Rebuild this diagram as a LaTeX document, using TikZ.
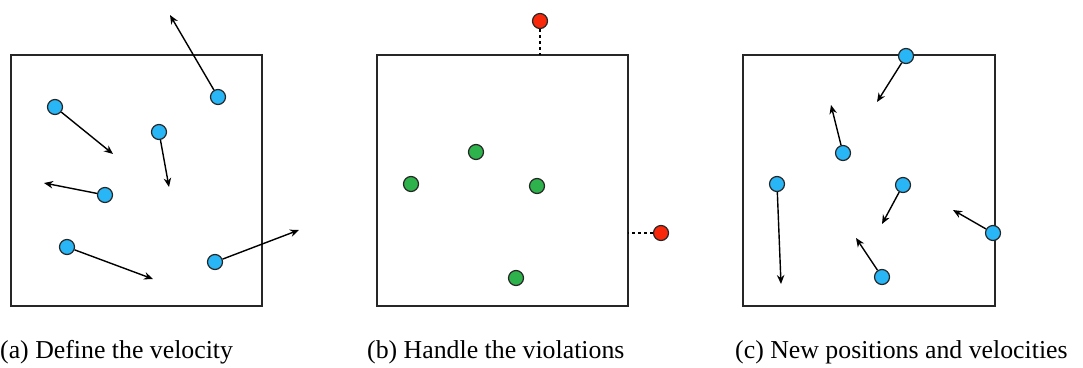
\documentclass[tikz,border=0pt]{standalone}
\usepackage{fontspec}
\setmainfont{Liberation Serif}
\usetikzlibrary{arrows.meta}
\definecolor{pblue}{RGB}{41,182,246}
\definecolor{pgreen}{RGB}{46,178,76}
\definecolor{pred}{RGB}{250,40,10}
\begin{document}
\begin{tikzpicture}[x=1pt,y=-1pt,
  box/.style={draw=black!85,line width=1.2pt},
  part/.style={circle,draw=black!85,line width=1.2pt,minimum size=15pt,inner sep=0pt},
  vec/.style={line width=1.4pt,-{Stealth[length=9pt,width=7.5pt]}},
  viol/.style={line width=1.5pt,dash pattern=on 3pt off 3pt},
  caption/.style={anchor=base west,inner sep=0pt,font=\fontsize{25.8}{30}\selectfont}]
\useasboundingbox (0,0) rectangle (1083,367);
% (a) velocities
\draw[box] (11,55) rectangle (262,306);
\node[part,fill=pblue] (a1) at (218,97) {};
\node[part,fill=pblue] (a2) at (55,107) {};
\node[part,fill=pblue] (a3) at (159,132) {};
\node[part,fill=pblue] (a4) at (105,195) {};
\node[part,fill=pblue] (a5) at (67,247) {};
\node[part,fill=pblue] (a6) at (215,262) {};
\coordinate (va1) at (170,15);
\coordinate (va2) at (113,154);
\coordinate (va3) at (169,187);
\coordinate (va4) at (44,183);
\coordinate (va5) at (153,279);
\coordinate (va6) at (299,230);
\foreach \i in {1,...,6}
  \draw[vec] (a\i) -- (va\i);
% (b) violations
\draw[box] (377,55) rectangle (628,306);
\node[part,fill=pred] (r1) at (540,21) {};
\node[part,fill=pred] (r2) at (661,233) {};
\coordinate (w1) at (540,55);
\coordinate (w2) at (628,233);
\draw[viol] (r1) -- (w1);
\draw[viol] (r2) -- (w2);
\node[part,fill=pgreen] (g1) at (476,152) {};
\node[part,fill=pgreen] (g2) at (411,184) {};
\node[part,fill=pgreen] (g3) at (537,186) {};
\node[part,fill=pgreen] (g4) at (516,278) {};
% (c) new positions
\draw[box] (743,55) rectangle (995,306);
\node[part,fill=pblue] (c1) at (906,56) {};
\node[part,fill=pblue] (c2) at (843,153) {};
\node[part,fill=pblue] (c3) at (777,184) {};
\node[part,fill=pblue] (c4) at (903,185) {};
\node[part,fill=pblue] (c5) at (993,233) {};
\node[part,fill=pblue] (c6) at (882,277) {};
\coordinate (vc1) at (877,102);
\coordinate (vc2) at (831,105);
\coordinate (vc3) at (781,284);
\coordinate (vc4) at (882,224);
\coordinate (vc5) at (953,210);
\coordinate (vc6) at (856,238);
\foreach \i in {1,...,6}
  \draw[vec] (c\i) -- (vc\i);
% captions
\node[caption] (ta) at (0,358) {(a) Define the velocity};
\node[caption] (tb) at (367,358) {(b) Handle the violations};
\node[caption] (tc) at (735,358) {(c) New positions and velocities};
\end{tikzpicture}
\end{document}
